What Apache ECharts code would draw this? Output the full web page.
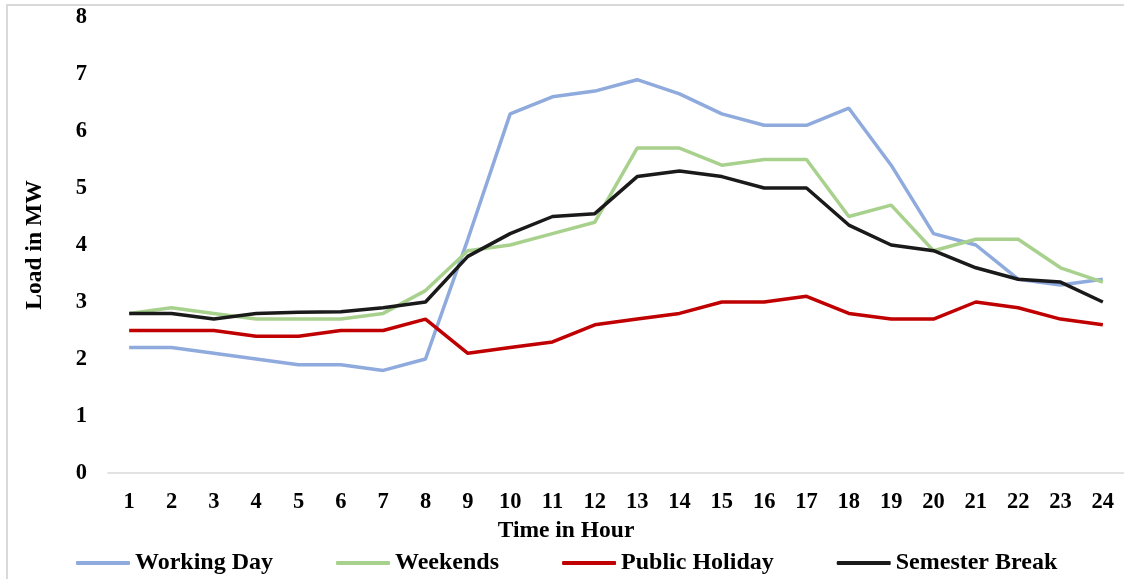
<!DOCTYPE html>
<html>
<head>
<meta charset="utf-8">
<script src="https://cdn.jsdelivr.net/npm/echarts@6/dist/echarts.min.js"></script>
<style>
  html, body { margin: 0; padding: 0; background: #fff; }
  #chart { width: 1124px; height: 579px; }
</style>
</head>
<body>
<div id="chart"></div>
<script>
// hours on the x axis
const hours = ['1', '2', '3', '4', '5', '6', '7', '8', '9', '10', '11', '12',
  '13', '14', '15', '16', '17', '18', '19', '20', '21', '22', '23', '24']

// load in MW
const workingDay = [2.2, 2.2, 2.1, 2.0, 1.9, 1.9, 1.8, 2.0, 4.1, 6.3, 6.6, 6.7,
  6.9, 6.65, 6.3, 6.1, 6.1, 6.4, 5.4, 4.2, 4.0, 3.4, 3.3, 3.4]
const weekends = [2.8, 2.9, 2.8, 2.7, 2.7, 2.7, 2.8, 3.2, 3.9, 4.0, 4.2, 4.4,
  5.7, 5.7, 5.4, 5.5, 5.5, 4.5, 4.7, 3.9, 4.1, 4.1, 3.6, 3.35]
const publicHoliday = [2.5, 2.5, 2.5, 2.4, 2.4, 2.5, 2.5, 2.7, 2.1, 2.2, 2.3, 2.6,
  2.7, 2.8, 3.0, 3.0, 3.1, 2.8, 2.7, 2.7, 3.0, 2.9, 2.7, 2.6]
const semesterBreak = [2.8, 2.8, 2.7, 2.8, 2.82, 2.83, 2.9, 3.0, 3.8, 4.2, 4.5, 4.55,
  5.2, 5.3, 5.2, 5.0, 5.0, 4.35, 4.0, 3.9, 3.6, 3.4, 3.35, 3.0]

const yTicks = [0, 1, 2, 3, 4, 5, 6, 7, 8]

const font = '"Liberation Serif", "Times New Roman", serif'
const lines = [
  { name: 'Working Day', data: workingDay, color: '#8FAADC' },
  { name: 'Weekends', data: weekends, color: '#A9D18E' },
  { name: 'Public Holiday', data: publicHoliday, color: '#C00000' },
  { name: 'Semester Break', data: semesterBreak, color: '#1a1a1a' }
]

const chart = echarts.init(document.getElementById('chart'))
chart.setOption({
  backgroundColor: '#fff',
  animation: false,
  graphic: [{
    type: 'rect',
    shape: { x: 7, y: 5, width: 1140, height: 600 },
    style: { fill: 'none', stroke: '#d9d9d9', lineWidth: 2 },
    silent: true
  }],
  legend: {
    bottom: -1,
    left: 71,
    icon: 'roundRect',
    itemWidth: 54,
    itemHeight: 4,
    itemGap: 63,
    textStyle: { fontFamily: font, fontWeight: 'bold', fontSize: 24, color: '#000' },
    data: lines.map(l => l.name)
  },
  grid: {
    left: 108,
    top: 17,
    width: 1018,
    bottom: 106,
    containLabel: false
  },
  xAxis: {
    type: 'category',
    data: hours,
    boundaryGap: true,
    name: 'Time in Hour',
    nameLocation: 'middle',
    nameGap: 33,
    nameTextStyle: {
      fontFamily: font, fontWeight: 'bold', fontSize: 23.5, color: '#000',
      padding: [0, 100, 0, 0]
    },
    axisLine: { lineStyle: { color: '#d9d9d9', width: 1.5 } },
    axisTick: { show: false },
    axisLabel: {
      fontFamily: font, fontWeight: 'bold', fontSize: 22.5, color: '#000', margin: 18
    },
    splitLine: { show: false }
  },
  yAxis: {
    type: 'value',
    min: yTicks[0],
    max: yTicks[yTicks.length - 1],
    interval: 1,
    name: 'Load in MW',
    nameLocation: 'middle',
    nameGap: 61,
    nameTextStyle: { fontFamily: font, fontWeight: 'bold', fontSize: 23.5, color: '#000' },
    axisLine: { show: false },
    axisTick: { show: false },
    axisLabel: {
      fontFamily: font, fontWeight: 'bold', fontSize: 22.5, color: '#000', margin: 21
    },
    splitLine: { show: false }
  },
  series: lines.map(l => ({
    name: l.name,
    type: 'line',
    data: l.data,
    symbol: 'none',
    color: l.color,
    lineStyle: { color: l.color, width: 3.5 }
  }))
})
</script>
</body>
</html>
